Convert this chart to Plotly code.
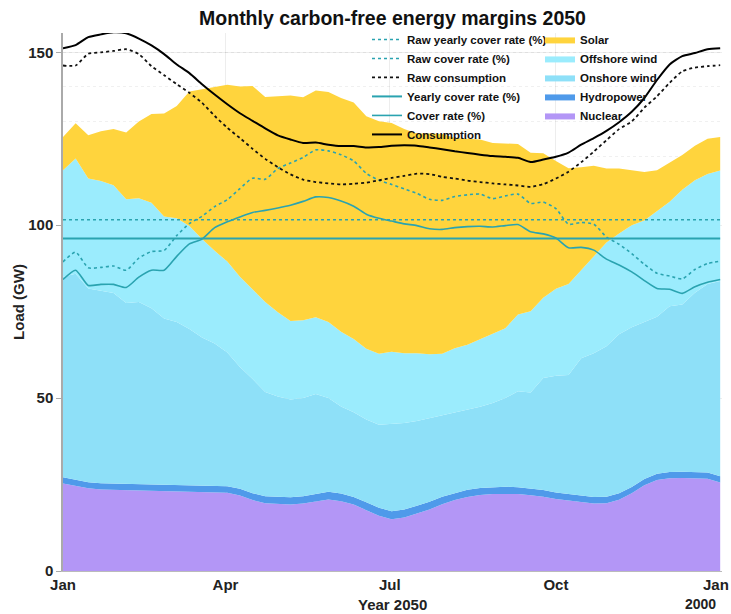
import numpy as np
import pandas as pd
import plotly.graph_objects as go

# ---- data ----
days = [0, 7, 14, 21, 28, 35, 42, 49, 56, 63, 70, 77, 84, 91, 98, 105, 112, 119, 126, 133,
        140, 147, 154, 161, 168, 175, 182, 189, 196, 203, 210, 217, 224, 231, 238, 245, 252,
        259, 266, 273, 280, 287, 294, 301, 308, 315, 322, 329, 336, 343, 350, 357, 364]

nuclear = [25.3, 24.5, 23.9, 23.6, 23.5, 23.4, 23.4, 23.3, 23.3, 23.2, 23.1, 23.0, 22.8, 22.6,
           21.8, 20.5, 19.6, 19.3, 19.2, 19.5, 20.2, 20.7, 20.2, 19.2, 17.6, 16.0, 15.0, 15.5,
           16.6, 17.8, 19.3, 20.5, 21.4, 22.0, 22.3, 22.4, 22.3, 21.9, 21.5, 20.8, 20.3, 19.8,
           19.5, 19.6, 20.6, 22.5, 24.8, 26.3, 26.8, 26.9, 26.9, 26.7, 25.6]

hydropower = [1.8, 1.8, 1.8, 1.8, 1.8, 1.8, 1.8, 1.8, 1.8, 1.8, 1.8, 1.8, 1.9, 1.9,
              2.0, 2.0, 2.0, 2.1, 2.1, 2.1, 2.1, 2.2, 2.2, 2.2, 2.3, 2.3, 2.3, 2.3,
              2.3, 2.2, 2.2, 2.1, 2.1, 2.0, 2.0, 2.0, 1.9, 1.9, 1.9, 1.9, 1.9, 1.9,
              1.9, 1.9, 1.9, 1.8, 1.8, 1.8, 1.8, 1.8, 1.8, 1.8, 1.8]

# stacked levels (top of each band)
onshore_level = [85.1, 86.0, 81.7, 81.0, 80.4, 77.5, 77.8, 76.0, 73.0, 72.0, 70.0, 67.5, 65.8,
                 63.2, 59.0, 55.5, 51.8, 50.5, 49.6, 50.0, 51.2, 50.0, 47.6, 45.9, 43.8, 42.3,
                 42.6, 42.8, 43.4, 44.2, 45.0, 45.8, 46.8, 47.5, 48.6, 50.0, 52.0, 51.6, 55.8,
                 56.5, 56.7, 61.5, 63.0, 65.0, 68.5, 70.5, 72.0, 73.5, 76.6, 77.1, 80.5, 83.0, 83.9]

offshore_level = [115.9, 119.3, 113.5, 112.8, 111.6, 107.5, 107.8, 106.5, 102.5, 102.0, 99.8,
                  96.0, 92.6, 89.5, 85.1, 81.5, 77.8, 74.8, 72.3, 72.5, 73.4, 72.0, 69.2, 67.1,
                  64.3, 62.8, 63.4, 63.0, 63.0, 62.7, 62.8, 64.4, 65.4, 67.0, 68.6, 70.2, 74.2,
                  75.1, 79.0, 81.6, 83.0, 87.0, 91.3, 95.0, 97.6, 100.0, 101.4, 104.0, 106.8,
                  110.3, 113.0, 114.8, 115.8]

solar_level = [125.5, 129.5, 126.0, 127.2, 127.8, 126.8, 130.0, 132.2, 132.3, 134.5, 138.7,
               139.3, 140.0, 140.6, 140.1, 140.3, 137.1, 137.3, 137.5, 137.0, 139.0, 138.5,
               136.8, 135.5, 131.5, 130.1, 129.6, 127.8, 126.5, 126.5, 126.4, 125.2, 125.0,
               124.8, 123.8, 123.6, 123.5, 121.0, 120.8, 118.6, 116.5, 116.8, 117.2, 116.4,
               116.4, 115.9, 115.4, 115.9, 118.0, 120.3, 123.0, 125.0, 125.5]

consumption = [151.2, 152.1, 154.4, 155.2, 155.8, 155.5, 154.0, 152.0, 149.5, 146.5, 144.0,
               140.8, 137.8, 135.0, 132.4, 130.2, 128.0, 126.0, 124.8, 123.8, 123.9, 123.3,
               122.9, 122.9, 122.5, 122.6, 123.0, 123.1, 123.0, 122.5, 122.0, 121.4, 120.9,
               120.4, 120.0, 119.8, 119.5, 118.3, 119.0, 119.8, 121.0, 123.3, 125.2, 127.3,
               129.8, 132.8, 136.8, 142.0, 146.5, 148.9, 149.8, 150.9, 151.2]

raw_consumption = [146.2, 146.2, 149.6, 150.0, 150.4, 150.9, 149.5, 146.0, 143.4, 140.8, 138.3,
                   135.4, 131.6, 128.2, 125.2, 122.1, 119.2, 116.8, 114.7, 113.2, 112.5, 112.1,
                   111.8, 112.0, 112.3, 113.0, 113.7, 114.3, 114.9, 114.8, 114.0, 113.5, 112.9,
                   112.5, 112.1, 111.8, 111.5, 111.1, 111.9, 113.5, 115.5, 118.2, 121.3, 124.6,
                   127.8, 130.0, 134.0, 137.3, 141.2, 144.5, 145.6, 146.0, 146.3]

cover_rate = [84.3, 87.0, 82.6, 82.9, 82.9, 82.0, 85.0, 87.0, 87.0, 91.0, 94.6, 96.0, 99.3,
              101.0, 102.4, 103.7, 104.3, 105.0, 105.8, 106.9, 108.2, 108.0, 107.0, 105.5,
              103.2, 102.0, 101.2, 100.4, 99.9, 99.0, 98.8, 99.3, 99.6, 99.7, 99.5, 99.9,
              100.2, 98.1, 97.5, 96.3, 93.5, 93.6, 92.8, 90.2, 88.5, 86.5, 84.0, 81.7, 81.5,
              80.3, 82.2, 83.5, 84.3]

raw_cover_rate = [89.4, 92.2, 87.7, 87.8, 88.2, 87.0, 90.5, 92.4, 92.7, 97.0, 100.5, 102.6,
                  105.4, 107.4, 110.6, 113.6, 113.3, 116.4, 118.0, 119.6, 121.8, 121.5, 120.4,
                  118.6, 115.0, 113.0, 111.8, 110.5, 109.2, 107.5, 107.2, 108.3, 108.8, 109.0,
                  107.7, 108.5, 109.0, 106.3, 106.7, 104.8, 100.3, 100.8, 100.3, 96.6, 94.5,
                  91.8, 88.7, 86.1, 85.3, 84.5, 87.2, 88.9, 89.6]

yearly_cover_rate = 96.2
raw_yearly_cover_rate = 101.6

tick_dates = ["2050-01-01", "2050-04-01", "2050-07-01", "2050-10-01", "2051-01-01"]
tick_labels = ["Jan", "Apr", "Jul", "Oct", "Jan"]

# ---- derived ----
x = pd.Timestamp("2050-01-01") + pd.to_timedelta(days, unit="D")
hydro_level = np.array(nuclear) + np.array(hydropower)
onshore = np.array(onshore_level) - hydro_level
offshore = np.array(offshore_level) - np.array(onshore_level)
solar = np.array(solar_level) - np.array(offshore_level)
x_year = [x[0], x[-1]]

FONT = "Liberation Sans Narrow, Arial Narrow, Liberation Sans, Arial, sans-serif"
TEAL = "#2aa3b0"

fig = go.Figure()

areas = [
    ("Nuclear", nuclear, "#b396f6", 5),
    ("Hydropower", hydropower, "#4f9aea", 4),
    ("Onshore wind", onshore, "#8ee0f8", 3),
    ("Offshore wind", offshore, "#9becfd", 2),
    ("Solar", solar, "#ffd43d", 1),
]
for name, vals, col, rank in areas:
    fig.add_trace(go.Scatter(
        x=x, y=vals, name=name, mode="lines", stackgroup="gen",
        line=dict(width=0, color=col), fillcolor=col,
        legend="legend2", legendrank=rank, hoverinfo="skip"))

lines = [
    ("Raw yearly cover rate (%)", [raw_yearly_cover_rate] * 2, x_year, TEAL, "dot", 1.6, 1),
    ("Raw cover rate (%)", raw_cover_rate, x, TEAL, "dot", 1.6, 2),
    ("Raw consumption", raw_consumption, x, "#111111", "dot", 1.8, 3),
    ("Yearly cover rate (%)", [yearly_cover_rate] * 2, x_year, TEAL, "solid", 2.0, 4),
    ("Cover rate (%)", cover_rate, x, TEAL, "solid", 1.6, 5),
    ("Consumption", consumption, x, "#000000", "solid", 2.0, 6),
]
for name, vals, xx, col, dash, w, rank in lines:
    fig.add_trace(go.Scatter(
        x=xx, y=vals, name=name, mode="lines",
        line=dict(color=col, dash=dash, width=w, shape="spline", smoothing=0.6),
        legend="legend", legendrank=rank, hoverinfo="skip"))

legend_font = dict(family=FONT, size=11.5, color="#111111", weight="bold")
tick_font = dict(family=FONT, size=15, color="#222222", weight="bold")
fig.update_layout(
    width=731, height=614,
    margin=dict(l=63, r=9, t=33, b=43),
    paper_bgcolor="white", plot_bgcolor="white",
    font=dict(family=FONT, color="#222222"),
    title=dict(text="Monthly carbon-free energy margins 2050", x=0.5, xref="paper",
               xanchor="center", y=1 - 18 / 614, yanchor="middle",
               font=dict(family=FONT, size=19.5, color="#111111", weight="bold")),
    legend=dict(x=(367 - 63) / 659, y=1.015, xanchor="left", yanchor="top",
                bgcolor="rgba(0,0,0,0)", font=legend_font, itemwidth=30,
                tracegroupgap=0, traceorder="normal"),
    legend2=dict(x=(540 - 63) / 659, y=1.015, xanchor="left", yanchor="top",
                 bgcolor="rgba(0,0,0,0)", font=legend_font, itemwidth=30,
                 tracegroupgap=0, traceorder="normal"),
    showlegend=True,
)
fig.update_xaxes(
    type="date", range=["2050-01-01", "2051-01-01"],
    tickvals=tick_dates[:-1], ticktext=tick_labels[:-1], automargin=False,
    tickfont=tick_font,
    showgrid=True, gridcolor="rgba(0,0,0,0.07)", gridwidth=1,
    showline=True, linecolor="#bbbbbb", ticks="", zeroline=False,
)
fig.update_yaxes(
    range=[0, 155.6], tickvals=[0, 50, 100, 150], automargin=False,
    tickfont=tick_font,
    title=dict(text="Load (GW)", standoff=0,
               font=dict(family=FONT, size=15, color="#222222", weight="bold")),
    showgrid=True, gridcolor="rgba(0,0,0,0.07)", gridwidth=1,
    minor=dict(dtick=10, showgrid=True, gridcolor="rgba(0,0,0,0.06)", griddash="dot"),
    showline=True, linecolor="#aaaaaa", linewidth=1.5,
    ticks="outside", ticklen=5, tickcolor="#aaaaaa", zeroline=False,
)
# last "Jan" tick label, kept inside the page edge
fig.add_annotation(text=tick_labels[-1], xref="x", yref="paper", x=tick_dates[-1], y=0,
                   xanchor="right", yanchor="top", xshift=9, yshift=-3, showarrow=False,
                   font=tick_font)
fig.add_annotation(text="Year 2050", xref="paper", yref="paper", x=0.5, y=-33 / 538,
                   xanchor="center", yanchor="middle", showarrow=False,
                   font=dict(family=FONT, size=15, color="#222222", weight="bold"))
fig.add_annotation(text="2000", xref="paper", yref="paper", x=(700 - 63) / 659, y=-33 / 538,
                   xanchor="center", yanchor="middle", showarrow=False,
                   font=dict(family=FONT, size=14, color="#222222", weight="bold"))

fig.write_html("out.html", config={"displayModeBar": False},
               post_script="document.body.style.margin='0px';document.body.style.overflow='hidden';")
